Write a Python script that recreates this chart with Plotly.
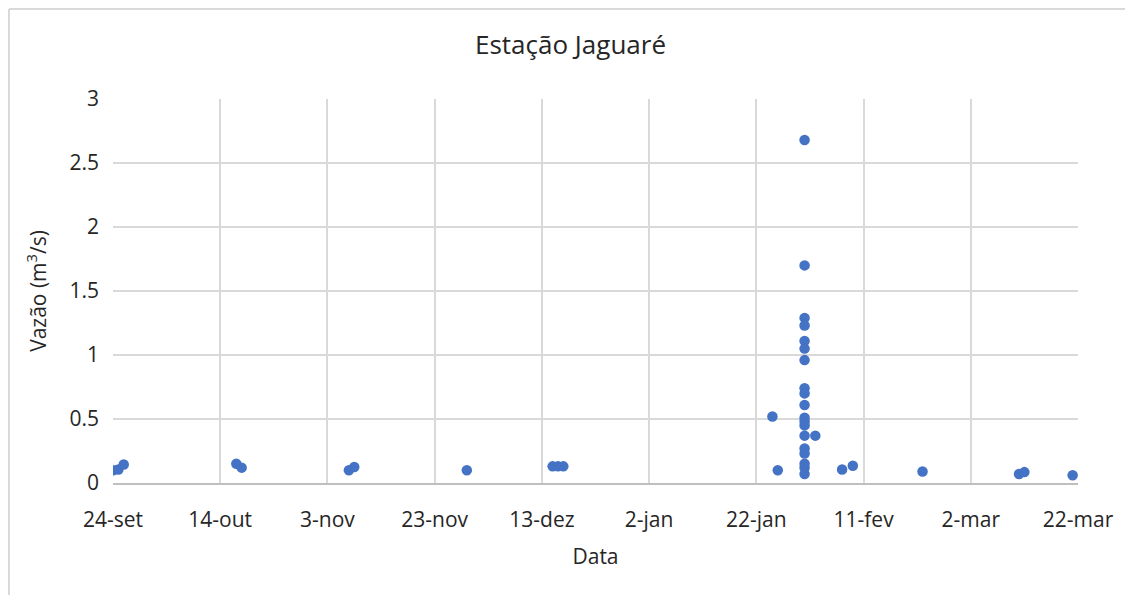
import plotly.graph_objects as go

# Data
dates = [
    "2019-09-24", "2019-09-25", "2019-09-26",
    "2019-10-17", "2019-10-18",
    "2019-11-07", "2019-11-08",
    "2019-11-29",
    "2019-12-15", "2019-12-16", "2019-12-17",
    "2020-01-25", "2020-01-26",
    "2020-01-31", "2020-01-31", "2020-01-31", "2020-01-31", "2020-01-31",
    "2020-01-31", "2020-01-31", "2020-01-31", "2020-01-31", "2020-01-31",
    "2020-01-31", "2020-01-31", "2020-01-31", "2020-01-31", "2020-01-31",
    "2020-01-31", "2020-01-31", "2020-01-31", "2020-01-31",
    "2020-02-02", "2020-02-07", "2020-02-09",
    "2020-02-22",
    "2020-03-11", "2020-03-12",
    "2020-03-21",
]
vazao = [
    0.10, 0.105, 0.145,
    0.15, 0.12,
    0.10, 0.125,
    0.10,
    0.13, 0.13, 0.13,
    0.52, 0.10,
    2.68, 1.70, 1.29, 1.23, 1.11,
    1.05, 0.96, 0.74, 0.70, 0.61,
    0.51, 0.48, 0.45, 0.37, 0.27,
    0.23, 0.15, 0.12, 0.07,
    0.37, 0.105, 0.135,
    0.09,
    0.07, 0.085,
    0.06,
]

tick_dates = ["2019-09-24", "2019-10-14", "2019-11-03", "2019-11-23", "2019-12-13",
              "2020-01-02", "2020-01-22", "2020-02-11", "2020-03-02", "2020-03-22"]
tick_labels = ["24-set", "14-out", "3-nov", "23-nov", "13-dez",
               "2-jan", "22-jan", "11-fev", "2-mar", "22-mar"]
y_ticks = [0, 0.5, 1, 1.5, 2, 2.5, 3]
y_tick_labels = ["0", "0.5", "1", "1.5", "2", "2.5", "3"]

FONT = "Open Sans"
TXT = "#262626"
GRID = "#D9D9D9"

fig = go.Figure()
fig.add_trace(go.Scatter(
    x=dates, y=vazao, mode="markers",
    marker=dict(size=10.5, color="#4472C4", line=dict(width=0)),
    showlegend=False,
))

# The page body adds an 8px margin, so the figure is sized to fit inside it
W, H = 1125, 587
ml, mr, mt, mb = 105, 55, 91, 112
pw, ph = W - ml - mr, H - mt - mb

fig.update_layout(
    width=W, height=H,
    margin=dict(l=ml, r=mr, t=mt, b=mb, pad=0),
    paper_bgcolor="white", plot_bgcolor="white",
    font=dict(family=FONT, color=TXT, size=21),
    title=dict(text="Estação Jaguaré", x=0.5, xanchor="center",
               y=1 - 37 / H, yanchor="middle",
               font=dict(family=FONT, size=26, color=TXT)),
    xaxis=dict(
        type="date",
        range=["2019-09-24", "2020-03-22"],
        tickmode="array", tickvals=tick_dates, ticktext=tick_labels,
        showgrid=True, gridcolor=GRID, gridwidth=1.5,
        showline=True, linecolor="#BFBFBF", linewidth=1.5,
        ticks="", ticklabelstandoff=17,
        tickfont=dict(size=21, color=TXT),
        title=dict(text="Data", font=dict(size=21, color=TXT), standoff=17),
        zeroline=False,
    ),
    yaxis=dict(
        range=[0, 3],
        tickmode="array", tickvals=y_ticks, ticktext=y_tick_labels,
        showgrid=True, gridcolor=GRID, gridwidth=1.5,
        showline=False, ticks="", ticklabelstandoff=13,
        tickfont=dict(size=21, color=TXT),
        title=dict(text="Vazão (m<sup>3</sup>/s)", font=dict(size=21, color=TXT), standoff=17),
        zeroline=False,
    ),
    shapes=[
        dict(type="line", xref="paper", yref="paper",
             x0=(1 - ml) / pw, x1=(W + 5 - ml) / pw,
             y0=1 + (mt - 1) / ph, y1=1 + (mt - 1) / ph,
             line=dict(color=GRID, width=2)),
        dict(type="line", xref="paper", yref="paper",
             x0=(1 - ml) / pw, x1=(1 - ml) / pw,
             y0=1 + (mt - 1) / ph, y1=-(mb + 5) / ph,
             line=dict(color=GRID, width=2)),
    ],
)

fig.write_html("out.html")
